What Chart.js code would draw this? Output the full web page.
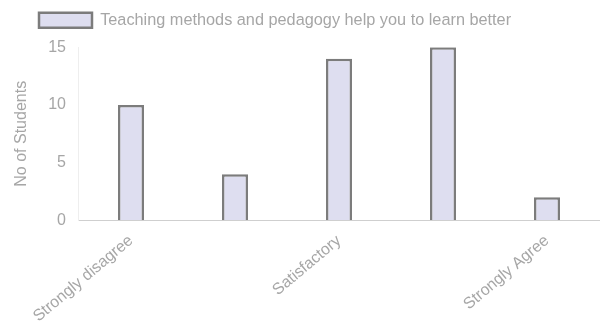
<!DOCTYPE html>
<html>
<head>
<meta charset="utf-8">
<script src="https://cdn.jsdelivr.net/npm/chart.js@4/dist/chart.umd.min.js"></script>
<style>
  html, body { margin: 0; padding: 0; background: #ffffff; }
  #wrap { width: 605px; height: 329px; }
</style>
</head>
<body>
<div id="wrap"><canvas id="c" width="605" height="329"></canvas></div>
<script>
const categories = ["Strongly disagree", "Disagree", "Satisfactory", "Agree", "Strongly Agree"];
const seriesLabel = "Teaching methods and pedagogy help you to learn better";
const studentCounts = [10, 4, 14, 15, 2];
const yTicks = [0, 5, 10, 15];
const yTitle = "No of Students";

const FONT = "'Liberation Sans', Arial, Helvetica, sans-serif";
const TXT = "#a6a6a6";

const legendSpacer = {
  id: 'legendSpacer',
  beforeInit(chart) {
    const origFit = chart.legend.fit;
    chart.legend.fit = function() {
      origFit.bind(chart.legend)();
      this.height += 9;
    };
  }
};

new Chart(document.getElementById('c'), {
  type: 'bar',
  data: {
    labels: categories,
    datasets: [{
      label: seriesLabel,
      data: studentCounts,
      backgroundColor: 'rgb(222,222,240)',
      borderColor: '#7c7c7c',
      borderWidth: 2.5,
      barPercentage: 0.25,
      categoryPercentage: 1.0
    }]
  },
  plugins: [legendSpacer],
  options: {
    responsive: false,
    animation: false,
    layout: { padding: { left: 27, right: 6, top: 0, bottom: 0 } },
    plugins: {
      legend: {
        display: true,
        position: 'top',
        align: 'start',
        labels: {
          color: TXT,
          font: { family: FONT, size: 16.3 },
          boxWidth: 53,
          boxHeight: 15,
          padding: 12
        }
      },
      tooltip: { enabled: false }
    },
    scales: {
      x: {
        grid: { display: false, drawTicks: true, tickLength: 8 },
        border: { display: true, color: '#cfcfcf', width: 1 },
        ticks: {
          color: TXT,
          font: { family: FONT, size: 16 },
          autoSkip: false,
          minRotation: 40,
          maxRotation: 40,
          padding: 3,
          callback: function(v, i) { return i % 2 === 0 ? categories[i] : ''; }
        }
      },
      y: {
        min: yTicks[0],
        max: yTicks[yTicks.length - 1],
        afterBuildTicks: function(axis) { axis.ticks = yTicks.map(v => ({ value: v })); },
        grid: { display: false, drawTicks: false },
        border: { display: true, color: '#eeeeee', width: 1 },
        ticks: {
          color: TXT,
          font: { family: FONT, size: 16 },
          padding: 13
        },
        title: {
          display: true,
          text: yTitle,
          color: TXT,
          font: { family: FONT, size: 16 },
          padding: { top: -15, bottom: 4 }
        }
      }
    }
  }
});
</script>
</body>
</html>
